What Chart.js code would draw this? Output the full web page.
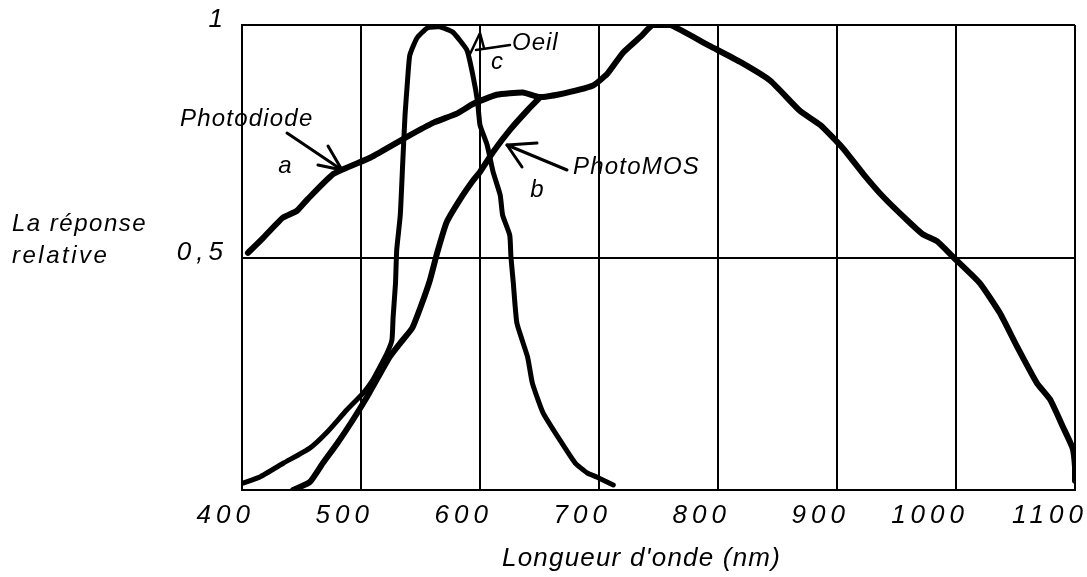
<!DOCTYPE html>
<html><head><meta charset="utf-8">
<script src="https://cdn.jsdelivr.net/npm/chart.js@4.4.1/dist/chart.umd.min.js"></script>
<style>html,body{margin:0;padding:0;background:#fff;}canvas{display:block;}</style>
</head><body>
<canvas id="c" width="1087" height="577"></canvas>
<script>
// ---- Data ----
const xTickLabels = ['400','500','600','700','800','900','1000','1100'];
const yTickValues = [0.5, 1];
const yTickLabels = ['0,5', '1'];

// a : Photodiode
const photodiodeX = [405, 417, 434, 446, 455, 477, 508, 539, 561, 581, 594, 614, 636, 650, 665, 695, 707, 720, 735, 745, 760, 793, 819, 844, 869, 886, 905, 922, 939, 959, 972, 984, 998, 1020, 1037, 1051, 1068, 1079, 1090, 1098, 1100, 1100];
const photodiodeY = [0.51, 0.54, 0.585, 0.60, 0.625, 0.68, 0.715, 0.76, 0.79, 0.81, 0.83, 0.85, 0.855, 0.845, 0.85, 0.87, 0.895, 0.94, 0.975, 1.0, 1.0, 0.955, 0.92, 0.88, 0.815, 0.785, 0.735, 0.68, 0.63, 0.58, 0.55, 0.535, 0.50, 0.445, 0.38, 0.31, 0.23, 0.195, 0.135, 0.09, 0.05, 0.02];

// b : PhotoMOS
const photoMOSX = [443, 457, 468, 480, 493, 505, 516, 524, 533, 543, 551, 558, 564, 572, 583, 594, 600, 611, 625, 640, 650];
const photoMOSY = [0.0, 0.017, 0.058, 0.10, 0.15, 0.20, 0.25, 0.286, 0.316, 0.348, 0.40, 0.452, 0.51, 0.576, 0.624, 0.665, 0.684, 0.727, 0.774, 0.817, 0.843];

// c : Oeil
const oeilX = [401, 415, 435, 457, 471, 488, 502, 510, 516, 522, 526, 527, 529, 530, 533, 535, 537, 539, 541, 547, 556, 566, 577, 589, 594, 598, 600, 606, 611, 617, 619, 625, 626, 628, 631, 640, 644, 653, 667, 680, 690, 698, 712];
const oeilY = [0.015, 0.028, 0.058, 0.09, 0.123, 0.172, 0.209, 0.237, 0.265, 0.295, 0.323, 0.372, 0.445, 0.516, 0.591, 0.70, 0.806, 0.877, 0.935, 0.972, 0.994, 0.996, 0.985, 0.946, 0.892, 0.834, 0.785, 0.742, 0.684, 0.634, 0.591, 0.548, 0.501, 0.445, 0.359, 0.286, 0.23, 0.166, 0.108, 0.058, 0.037, 0.028, 0.011];

const FONT = '"Liberation Sans", Arial, Helvetica, sans-serif';
Chart.defaults.font.family = FONT;
Chart.defaults.color = '#000';

const toPts = (xs, ys) => xs.map((x, i) => ({x: x, y: ys[i]}));
const lineStyle = (w) => ({borderColor: '#000', backgroundColor: '#000', borderWidth: w, pointRadius: 0,
  tension: 0.15, fill: false, borderCapStyle: 'round', borderJoinStyle: 'round'});

const annot = {
  id: 'annot',
  beforeDraw(chart) { chart.ctx.letterSpacing = '5px'; },
  beforeDatasetsDraw(chart) { chart.ctx.letterSpacing = '0px'; },
  afterDraw(chart) {
    const ctx = chart.ctx;
    ctx.save();
    ctx.fillStyle = '#000';
    ctx.strokeStyle = '#000';
    ctx.lineCap = 'round';
    ctx.lineJoin = 'round';
    const txt = (s, x, y, size, sp, align) => {
      ctx.font = 'italic ' + size + 'px ' + FONT;
      ctx.letterSpacing = sp + 'px';
      ctx.textAlign = align || 'left';
      ctx.textBaseline = 'alphabetic';
      ctx.fillText(s, x, y);
    };
    const poly = (pts, w) => {
      ctx.lineWidth = w;
      ctx.beginPath();
      ctx.moveTo(pts[0][0], pts[0][1]);
      for (let i = 1; i < pts.length; i++) ctx.lineTo(pts[i][0], pts[i][1]);
      ctx.stroke();
    };
    // axis titles
    txt('La réponse', 12, 231, 24, 1.5);
    txt('relative', 12, 263, 24, 2.5);
    txt("Longueur d'onde (nm)", 502, 566, 26, 1.2);
    // curve labels
    txt('Photodiode', 180, 126, 24, 1.2);
    poly([[287,133],[342,170]], 3);
    poly([[328,146],[342,170],[318,165]], 3);
    txt('a', 285, 173, 24, 0, 'center');

    txt('Oeil', 512, 50, 24, 1);
    poly([[510,45],[476,50]], 2.5);
    poly([[470,54],[480,33],[484,48]], 2.5);
    txt('c', 497, 69, 24, 0, 'center');

    txt('PhotoMOS', 573, 174, 24, 1.2);
    poly([[567,170],[507,145]], 3);
    poly([[537,143],[507,145],[522,167]], 3);
    txt('b', 537, 197, 24, 0, 'center');
    ctx.restore();
  }
};

new Chart(document.getElementById('c'), {
  type: 'line',
  data: {
    datasets: [
      Object.assign({label: 'Photodiode', data: toPts(photodiodeX, photodiodeY)}, lineStyle(6)),
      Object.assign({label: 'PhotoMOS', data: toPts(photoMOSX, photoMOSY)}, lineStyle(6)),
      Object.assign({label: 'Oeil', data: toPts(oeilX, oeilY)}, lineStyle(5))
    ]
  },
  options: {
    responsive: false,
    animation: false,
    devicePixelRatio: 1,
    layout: {padding: {left: 0, top: 25, right: 12, bottom: 0}},
    plugins: {legend: {display: false}, tooltip: {enabled: false}},
    scales: {
      x: {
        type: 'linear', min: 400, max: 1100,
        afterBuildTicks: (s) => { s.ticks = xTickLabels.map(v => ({value: Number(v)})); },
        ticks: {
          autoSkip: false, maxRotation: 0, minRotation: 0,
          font: {size: 26, style: 'italic'}, color: '#000',
          padding: 10, align: 'end', labelOffset: 13,
          callback: (v, i) => xTickLabels[i]
        },
        grid: {color: '#000', lineWidth: 2, drawTicks: false},
        border: {color: '#000', width: 2},
        afterFit: (s) => { s.height = 87; s.paddingLeft = 0; s.paddingRight = 0; }
      },
      y: {
        type: 'linear', min: 0, max: 1,
        afterBuildTicks: (s) => { s.ticks = [0].concat(yTickValues).map(v => ({value: v})); },
        ticks: {
          autoSkip: false, font: {size: 26, style: 'italic'}, color: '#000',
          padding: 14, labelOffset: -5,
          callback: (v) => { const i = yTickValues.indexOf(v); return i >= 0 ? yTickLabels[i] : ''; }
        },
        grid: {color: '#000', lineWidth: 2, drawTicks: false},
        border: {color: '#000', width: 2},
        afterFit: (s) => { s.width = 242; s.paddingTop = 0; s.paddingBottom = 0; }
      }
    }
  },
  plugins: [annot]
});
</script>
</body></html>
